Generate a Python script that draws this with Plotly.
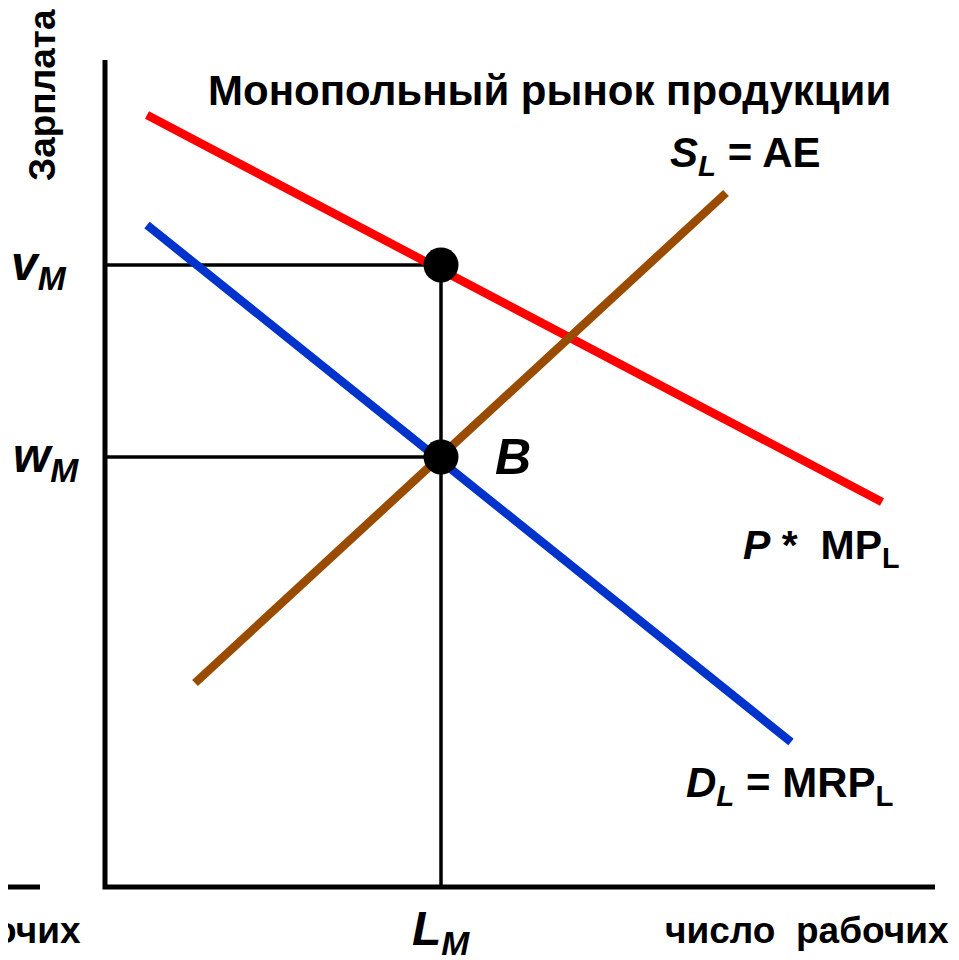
import plotly.graph_objects as go

# diagram units: origin at the corner of the axes
mp_x = [42, 777]
mp_y = [772, 385]
mrp_x = [42, 686]
mrp_y = [662, 145]
sl_x = [90, 621]
sl_y = [204, 694]
point_x = [336, 336]
point_y = [622, 430]
v_m, w_m, l_m = 622, 430, 336

FONT = "Liberation Sans, Arial, sans-serif"


def line(xs, ys, color, width):
    return go.Scatter(x=xs, y=ys, mode="lines", line=dict(color=color, width=width),
                      hoverinfo="skip", showlegend=False)


fig = go.Figure()
# axes
fig.add_trace(line([0, 0, 830], [827, 0, 0], "black", 5))
fig.add_trace(line([-105, -65], [0, 0], "black", 5))
# guide lines
fig.add_trace(line([0, l_m], [v_m, v_m], "black", 3.5))
fig.add_trace(line([0, l_m], [w_m, w_m], "black", 3.5))
fig.add_trace(line([l_m, l_m], [0, v_m], "black", 3.5))
# curves
fig.add_trace(line(mp_x, mp_y, "#ff0000", 8.5))
fig.add_trace(line(mrp_x, mrp_y, "#0033cc", 8.5))
fig.add_trace(line(sl_x, sl_y, "#994c00", 8.5))
fig.add_trace(go.Scatter(x=point_x, y=point_y, mode="markers",
                         marker=dict(color="black", size=35), hoverinfo="skip", showlegend=False))


def label(x, y, text, size, xanchor="center", angle=0):
    fig.add_annotation(x=x, y=y, text=text, showarrow=False, xanchor=xanchor, yanchor="middle",
                       textangle=angle, font=dict(family=FONT, size=size, color="black"))


label(444, 797, "<b>Монопольный рынок продукции</b>", 42)
label(-63, 792, "<b>Зарплата</b>", 37, angle=-90)
label(-66, 620, "<b><i>v</i><sub><i>M</i></sub></b>", 48)
label(-59, 428, "<b><i>w</i><sub><i>M</i></sub></b>", 48)
label(l_m, -45, "<b><i>L</i><sub><i>M</i></sub></b>", 48)
label(408, 430, "<b><i>B</i></b>", 50)
label(640, 732, "<b><i>S</i><sub><i>L</i></sub> = AE</b>", 42)
label(716, 339, "<b><i>P</i> *  MP<sub>L</sub></b>", 41)
label(685, 102, "<b><i>D</i><sub><i>L</i></sub> = MRP<sub>L</sub></b>", 42)
label(702, -43, "<b>число  рабочих</b>", 37)
label(-22, -43, "<b>число  рабочих</b>", 37, xanchor="right")

# the page body adds an 8 px offset, so the ranges are shifted by it
fig.update_xaxes(range=[-97, 862], visible=False)
fig.update_yaxes(range=[-81, 879], visible=False)
fig.update_layout(width=959, height=960, margin=dict(l=0, r=0, t=0, b=0),
                  plot_bgcolor="white", paper_bgcolor="white")
fig.write_html("out.html")
